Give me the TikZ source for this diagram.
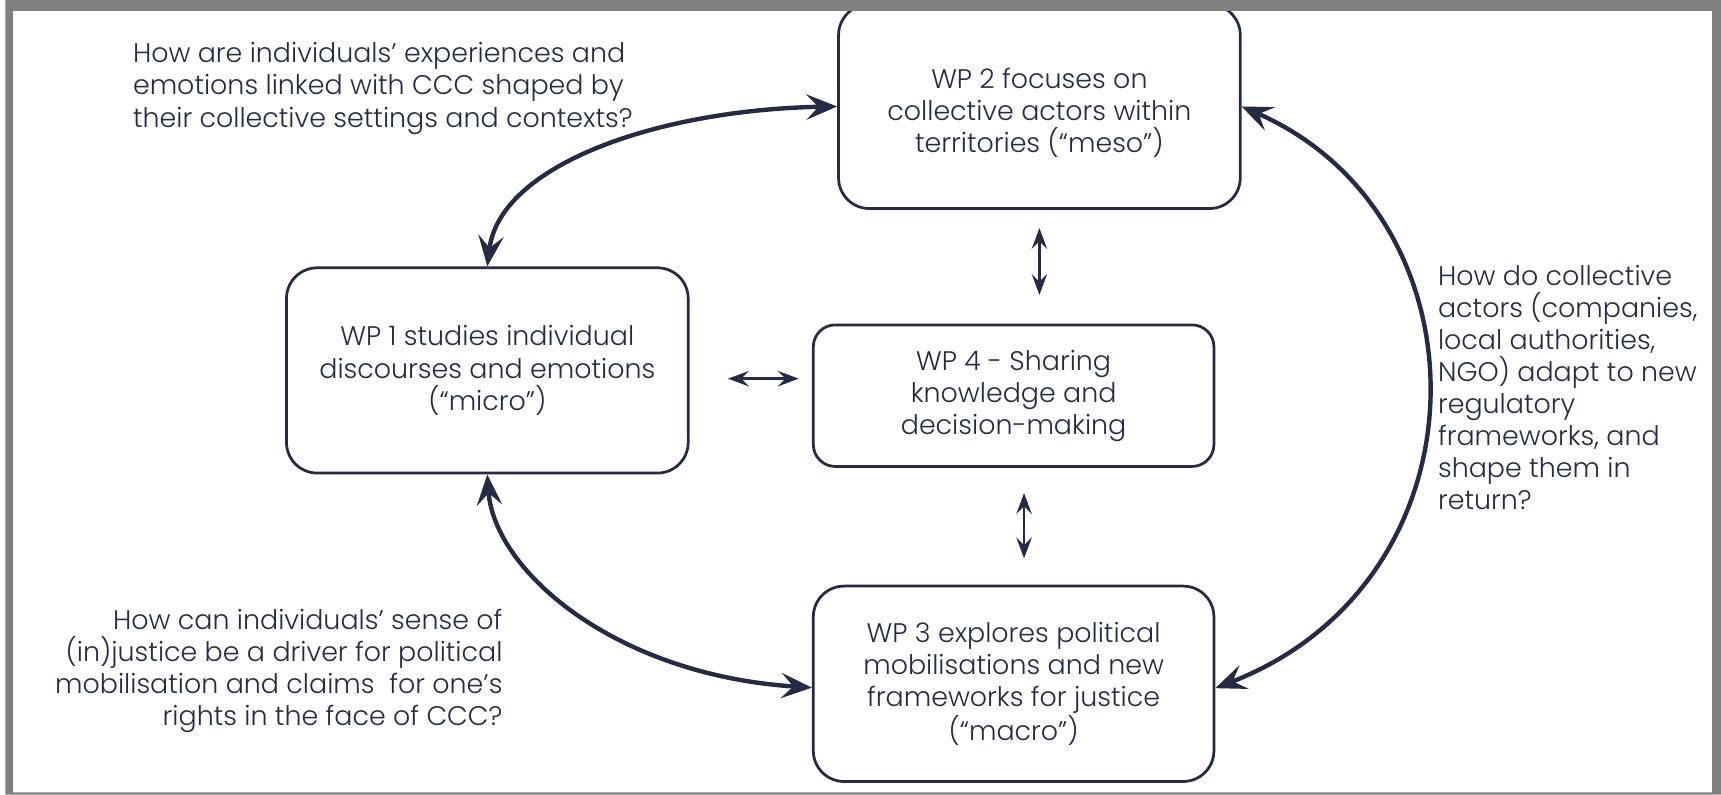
\documentclass[tikz,border=0pt]{standalone}
\usepackage{fontspec}
\setmainfont{Poppins}[UprightFont=* Light]
\usetikzlibrary{arrows.meta,calc}
\definecolor{navy}{HTML}{252B45}
\definecolor{frame}{HTML}{808080}
\begin{document}
\begin{tikzpicture}[x=1pt,y=1pt,
  font=\fontsize{24.5}{29.2}\selectfont,
  box/.style={draw=navy,line width=2.5pt,rounded corners=28pt,align=center,text=navy,inner sep=0pt},
  boxtext/.style={align=center,text=navy,inner sep=0pt},
  ques/.style={text=navy,inner sep=0pt},
  bigarrow/.style={draw=navy,line width=4pt,{Stealth[length=28pt,width=23pt,inset=11pt]}-{Stealth[length=28pt,width=23pt,inset=11pt]}},
  smallarrow/.style={draw=navy,line width=2.4pt,{Stealth[length=19pt,width=14pt,inset=7pt]}-{Stealth[length=19pt,width=14pt,inset=7pt]}}
]
\useasboundingbox (0,0) rectangle (1568,724);
\fill[white] (0,0) rectangle (1568,724);
% boxes
\node[box,minimum width=366pt,minimum height=186pt] (wp2) at (947,627) {};
\node[boxtext] (wp2t) at ([yshift=-6pt]wp2.center)
  {WP 2 focuses on\\collective actors within\\territories (“meso”)};
\node[box,minimum width=366pt,minimum height=187pt] (wp1) at (444,386.5)
  {WP 1 studies individual\\discourses and emotions\\(“micro”)};
\node[box,rounded corners=20pt,minimum width=365pt,minimum height=129pt] (wp4) at (923.5,363.5)
  {WP 4 - Sharing\\knowledge and\\decision-making};
\node[box,minimum width=365pt,minimum height=178pt] (wp3) at (923.5,101)
  {WP 3 explores political\\mobilisations and new\\frameworks for justice\\(“macro”)};
% questions
\node[ques,anchor=west,align=left] (q1) at (121,643.4)
  {How are individuals’ experiences and\\emotions linked with CCC shaped by\\their collective settings and contexts?};
\node[ques,anchor=east,align=right] (q2) at (458,113)
  {How can individuals’ sense of\\(in)justice be a driver for political\\mobilisation and claims \ for one’s\\rights in the face of CCC?};
\node[ques,anchor=west,align=left] (q3) at (1310,371.2)
  {How do collective\\actors (companies,\\local authorities,\\NGO) adapt to new\\regulatory\\frameworks, and\\shape them in\\return?};
% big curved arrows
\draw[bigarrow] (wp1.north) .. controls (455,574) and (600,624) .. (wp2.west);
\draw[bigarrow] (wp1.south) .. controls (450,204) and (560,109) .. ([yshift=-3.5pt]wp3.west);
\draw[bigarrow] (wp2.east) .. controls (1360,527) and (1360,195) .. ([yshift=-4pt]wp3.east);
% small arrows
\draw[smallarrow,shorten <=16.5pt,shorten >=26pt] (wp2.south) -- (wp2.south |- wp4.north);
\draw[smallarrow,shorten <=35pt,shorten >=12pt] ([yshift=-7.5pt]wp1.east) -- ([yshift=-7.5pt]wp1.east -| wp4.west);
\draw[smallarrow,shorten <=23pt,shorten >=24pt] ([xshift=9.5pt]wp4.south) -- ([xshift=9.5pt]wp4.south |- wp3.north);
% frame
\fill[frame,even odd rule] (5,0) rectangle (1568,724) (12,2) rectangle (1560,714);
\end{tikzpicture}
\end{document}
